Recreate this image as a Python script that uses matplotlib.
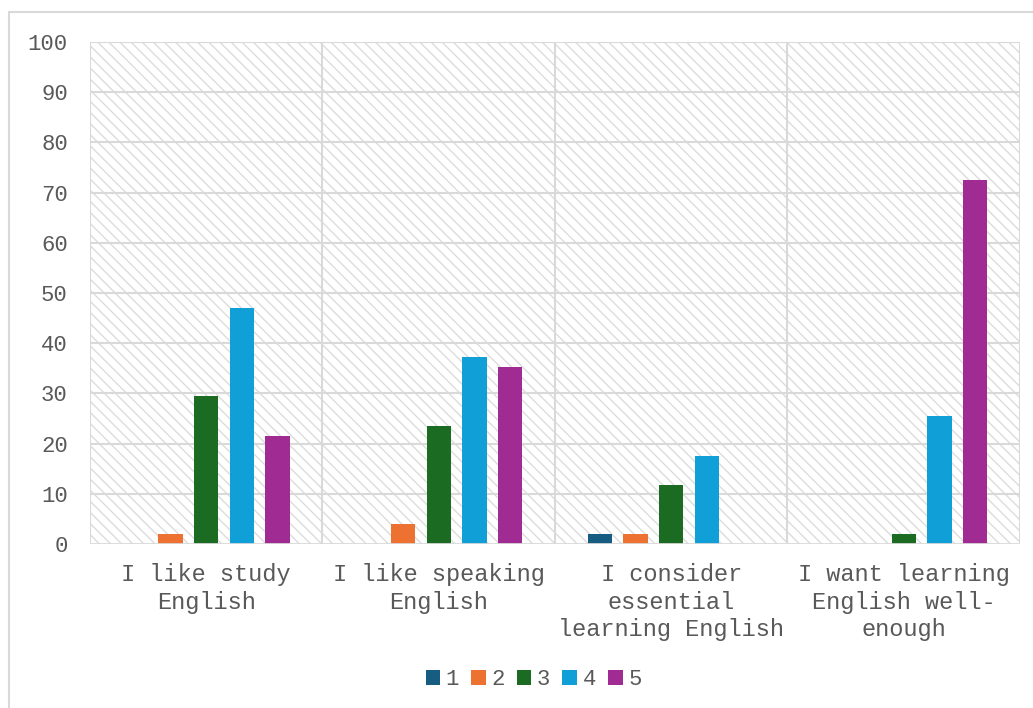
import numpy as np
import matplotlib.pyplot as plt
from matplotlib.patches import Rectangle

categories = ["I like study\nEnglish", "I like speaking\nEnglish",
              "I consider\nessential\nlearning English",
              "I want learning\nEnglish well-\nenough"]
series = ["1", "2", "3", "4", "5"]
s1 = [0, 0, 2, 0]
s2 = [1.9, 3.9, 2, 0]
s3 = [29.4, 23.5, 11.8, 2]
s4 = [47.1, 37.3, 17.6, 25.5]
s5 = [21.6, 35.3, 0, 72.5]
values = [s1, s2, s3, s4, s5]
colors = ["#175d81", "#ed7231", "#1b6b23", "#109fd6", "#a02b93"]

plt.rcParams['font.family'] = ['Liberation Mono', 'DejaVu Sans']
grey = "#d9d9d9"
txt = "#595959"

fig = plt.figure(figsize=(10.33, 7.08), dpi=100)
ax = fig.add_axes([0.0871, 0.2316, 0.9003, 0.7091])

# outer chart border
fig.patches.append(Rectangle((9 / 1033, -0.01), 1.02, 1 - 12 / 708 + 0.01,
                             transform=fig.transFigure, fill=False,
                             edgecolor=grey, linewidth=1.5))

# hatched plot background
plt.rcParams['hatch.linewidth'] = 1.0
ax.add_patch(Rectangle((-0.5, 0), 4, 100, facecolor="white", edgecolor="#dcdcdc",
                       hatch="\\\\\\", linewidth=0, zorder=0))

x = np.arange(len(categories))
slot = 0.153
w = 0.105
for i, (vals, c) in enumerate(zip(values, colors)):
    ax.bar(x + (i - 2) * slot, vals, width=w, color=c, label=series[i], zorder=3)

for yv in range(10, 101, 10):
    ax.axhline(yv, color=grey, linewidth=1.5, zorder=1)
for xv in np.arange(-0.5, 4, 1):
    ax.axvline(xv, color=grey, linewidth=1.5, zorder=1)
ax.axhline(0, color=grey, linewidth=2, zorder=4)

ax.set_xlim(-0.5, 3.5)
ax.set_ylim(0, 100)
ax.set_yticks(range(0, 101, 10))
ax.set_xticks(x)
ax.set_xticklabels(categories, fontsize=17, color=txt, linespacing=1.25)
ax.tick_params(axis='y', labelsize=16, colors=txt, length=0, pad=16)
ax.tick_params(axis='x', length=0, pad=14)
for s in ax.spines.values():
    s.set_visible(False)

leg = ax.legend(loc='center', bbox_to_anchor=(0.477, -0.27), ncol=5, frameon=False,
                handlelength=0.65, handleheight=0.65, handletextpad=0.25,
                columnspacing=0.55, fontsize=16)
for t in leg.get_texts():
    t.set_color(txt)

fig.savefig("out.png", dpi=100)
